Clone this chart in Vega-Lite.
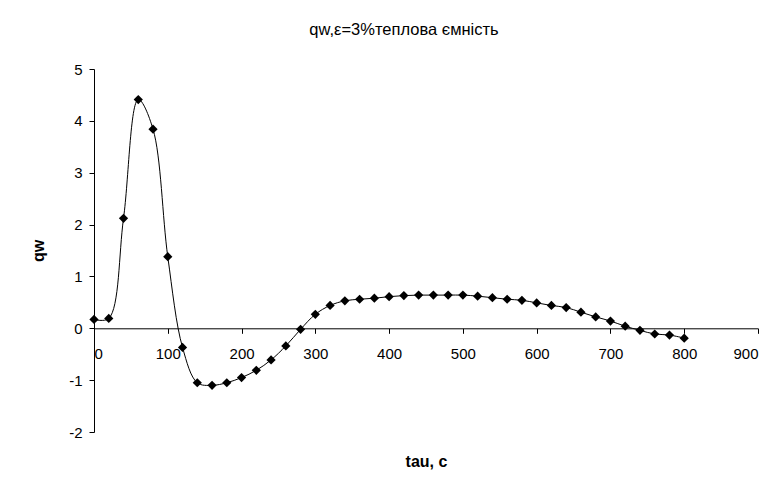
{
  "$schema": "https://vega.github.io/schema/vega-lite/v6.json",
  "autosize": "none",
  "width": 664,
  "height": 363,
  "padding": {"left": 94, "top": 69, "right": 26, "bottom": 50},
  "background": "white",
  "title": {
    "text": "qw,ε=3%теплова ємність",
    "font": "Liberation Sans",
    "fontSize": 16.5,
    "fontWeight": "normal",
    "color": "black",
    "offset": 24,
    "dx": -22
  },
  "config": {
    "view": {"stroke": null},
    "axis": {
      "grid": false,
      "domainColor": "black",
      "tickColor": "black",
      "labelColor": "black",
      "titleColor": "black",
      "labelFont": "Liberation Sans",
      "titleFont": "Liberation Sans",
      "labelFontSize": 15,
      "titleFontSize": 16,
      "titleFontWeight": "bold",
      "tickSize": 5,
      "domainWidth": 1,
      "tickWidth": 1,
      "labelExpr": "'' + datum.value"
    }
  },
  "data": {
    "values": [
      {"tau": 0, "qw": 0.17},
      {"tau": 20, "qw": 0.19},
      {"tau": 40, "qw": 2.12},
      {"tau": 60, "qw": 4.41},
      {"tau": 80, "qw": 3.84},
      {"tau": 100, "qw": 1.38},
      {"tau": 120, "qw": -0.37},
      {"tau": 140, "qw": -1.05},
      {"tau": 160, "qw": -1.1},
      {"tau": 180, "qw": -1.05},
      {"tau": 200, "qw": -0.95},
      {"tau": 220, "qw": -0.81},
      {"tau": 240, "qw": -0.61},
      {"tau": 260, "qw": -0.34},
      {"tau": 280, "qw": -0.02},
      {"tau": 300, "qw": 0.27},
      {"tau": 320, "qw": 0.44},
      {"tau": 340, "qw": 0.53},
      {"tau": 360, "qw": 0.56},
      {"tau": 380, "qw": 0.58},
      {"tau": 400, "qw": 0.61},
      {"tau": 420, "qw": 0.63},
      {"tau": 440, "qw": 0.64},
      {"tau": 460, "qw": 0.64},
      {"tau": 480, "qw": 0.64},
      {"tau": 500, "qw": 0.64},
      {"tau": 520, "qw": 0.62},
      {"tau": 540, "qw": 0.59},
      {"tau": 560, "qw": 0.56},
      {"tau": 580, "qw": 0.54},
      {"tau": 600, "qw": 0.49},
      {"tau": 620, "qw": 0.44},
      {"tau": 640, "qw": 0.4},
      {"tau": 660, "qw": 0.31},
      {"tau": 680, "qw": 0.22},
      {"tau": 700, "qw": 0.14},
      {"tau": 720, "qw": 0.04},
      {"tau": 740, "qw": -0.04},
      {"tau": 760, "qw": -0.11},
      {"tau": 780, "qw": -0.13},
      {"tau": 800, "qw": -0.19}
    ]
  },
  "encoding": {
    "x": {
      "field": "tau",
      "type": "quantitative",
      "scale": {"domain": [0, 900], "nice": false, "zero": false},
      "axis": {
        "title": "tau, c",
        "values": [0, 100, 200, 300, 400, 500, 600, 700, 800, 900],
        "offset": -103.7,
        "labelPadding": 13,
        "titleY": 133,
        "titleBaseline": "middle"
      }
    },
    "y": {
      "field": "qw",
      "type": "quantitative",
      "scale": {"domain": [-2, 5], "nice": false},
      "axis": {
        "title": "qw",
        "values": [-2, -1, 0, 1, 2, 3, 4, 5],
        "labelPadding": 7,
        "titlePadding": 22
      }
    }
  },
  "layer": [
    {
      "mark": {"type": "line", "color": "black", "strokeWidth": 1, "interpolate": "catmull-rom"}
    },
    {
      "mark": {"type": "point", "shape": "diamond", "filled": true, "color": "black", "size": 85, "opacity": 1}
    }
  ]
}
